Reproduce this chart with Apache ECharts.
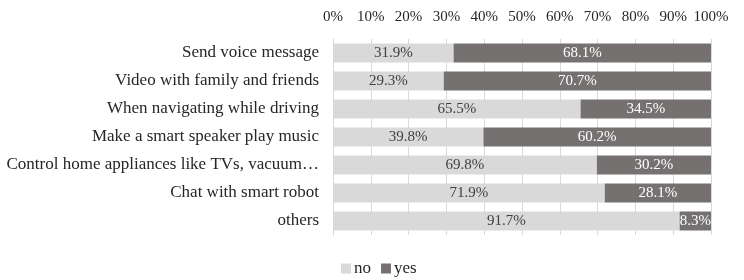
<!DOCTYPE html>
<html><head><meta charset="utf-8">
<script src="https://cdn.jsdelivr.net/npm/echarts@6/dist/echarts.min.js"></script>
<style>html,body{margin:0;padding:0;background:#fff}#c{width:744px;height:280px}</style>
</head><body><div id="c"></div>
<script>
const categories = ["Send voice message","Video with family and friends","When navigating while driving","Make a smart speaker play music","Control home appliances like TVs, vacuum\u2026","Chat with smart robot","others"];
const noValues = [31.9, 29.3, 65.5, 39.8, 69.8, 71.9, 91.7];
const yesValues = [68.1, 70.7, 34.5, 60.2, 30.2, 28.1, 8.3];
const seriesNames = ["no", "yes"];

const font = "'Liberation Serif', 'Times New Roman', serif";
const chart = echarts.init(document.getElementById('c'), null, {renderer:'canvas'});
chart.setOption({
  animation: false,
  textStyle: {fontFamily: font},
  grid: {left: 333, right: 33, top: 39, height: 196},
  legend: {
    data: seriesNames, left: 336, top: 255, itemWidth: 10, itemHeight: 10, itemGap: 10,
    icon: 'rect',
    textStyle: {fontFamily: font, fontSize: 17, color: '#262626', padding: [0,0,0,-2]}
  },
  xAxis: {
    type: 'value', position: 'top', min: 0, max: 100, interval: 10,
    axisLabel: {formatter: '{value}%', fontFamily: font, fontSize: 15, color: '#262626', margin: 14},
    axisLine: {show: false}, axisTick: {show: false},
    splitLine: {show: true, lineStyle: {color: '#d9d9d9', width: 1}}
  },
  yAxis: {
    type: 'category', data: categories, inverse: true,
    axisLabel: {fontFamily: font, fontSize: 17, color: '#262626', margin: 14},
    axisLine: {show: true, lineStyle: {color: '#d9d9d9'}}, axisTick: {show: false}
  },
  series: [
    {name: seriesNames[0], type: 'bar', stack: 's', data: noValues, barWidth: 19,
     itemStyle: {color: '#d9d9d9'},
     label: {show: true, position: 'inside', formatter: p => p.value.toFixed(1) + '%', fontFamily: font, fontSize: 15, color: '#404040'}},
    {name: seriesNames[1], type: 'bar', stack: 's', data: yesValues, barWidth: 19,
     itemStyle: {color: '#767171'},
     label: {show: true, position: 'inside', formatter: p => p.value.toFixed(1) + '%', fontFamily: font, fontSize: 15, color: '#ffffff'}}
  ]
});
</script></body></html>
